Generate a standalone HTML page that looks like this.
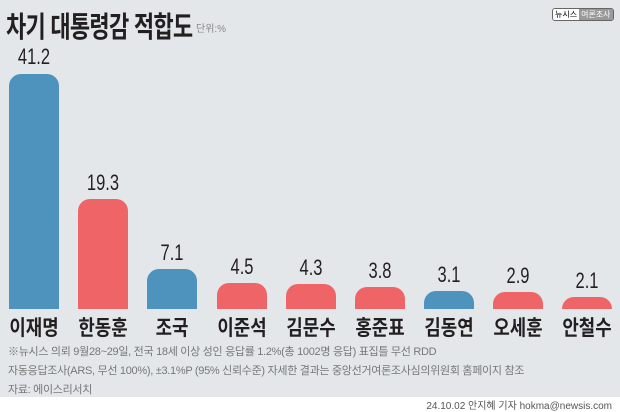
<!DOCTYPE html>
<html><head><meta charset="utf-8"><style>
body{margin:0;width:620px;height:410px;overflow:hidden;background:#fff;font-family:"Liberation Sans","Noto Sans CJK KR",sans-serif;}
#c{position:absolute;left:0;top:0;width:620px;height:397px;background:#e3e7ea;}
.t{position:absolute;left:6px;top:4px;font-size:29px;font-weight:bold;color:#231f20;letter-spacing:-1px;transform:scaleX(0.76);transform-origin:left top;white-space:nowrap;}
.u{position:absolute;left:196px;top:20px;font-size:10px;color:#888;}
.bar{position:absolute;width:50px;bottom:88px;border-radius:12px 12px 0 0;}
.v{position:absolute;width:70px;text-align:center;font-size:22px;color:#231f20;transform:scaleX(0.75);}
.n{position:absolute;top:312px;width:70px;text-align:center;font-size:21px;font-weight:bold;color:#231f20;transform:scaleX(0.85);white-space:nowrap;}
.f{position:absolute;left:8px;font-size:11px;color:#777;letter-spacing:-0.3px;white-space:nowrap;}
.logo{position:absolute;left:552px;top:8px;font-size:8px;line-height:11px;border:1px solid #666;border-radius:3px;overflow:hidden;display:flex;white-space:nowrap;}
</style></head><body>
<div id="c">
<div class="t">차기 대통령감 적합도</div><div class="u">단위:%</div>
<div class="logo"><span style="background:#fff;padding:0 2px">뉴시스</span><span style="background:#999;color:#fff;padding:0 2px">여론조사</span></div>
<div class="bar" style="left:9px;height:235px;background:#4e93bd"></div>
<div class="bar" style="left:78px;height:110px;background:#ef6466"></div>
<div class="bar" style="left:147px;height:40px;background:#4e93bd"></div>
<div class="bar" style="left:217px;height:26px;background:#ef6466"></div>
<div class="bar" style="left:286px;height:25px;background:#ef6466"></div>
<div class="bar" style="left:355px;height:22px;background:#ef6466"></div>
<div class="bar" style="left:424px;height:18px;background:#4e93bd"></div>
<div class="bar" style="left:493px;height:17px;background:#ef6466"></div>
<div class="bar" style="left:562px;height:12px;background:#ef6466"></div>
<div class="v" style="left:-1px;top:44px">41.2</div>
<div class="v" style="left:68px;top:170px">19.3</div>
<div class="v" style="left:137px;top:240px">7.1</div>
<div class="v" style="left:207px;top:254px">4.5</div>
<div class="v" style="left:276px;top:255px">4.3</div>
<div class="v" style="left:345px;top:258px">3.8</div>
<div class="v" style="left:414px;top:262px">3.1</div>
<div class="v" style="left:483px;top:263px">2.9</div>
<div class="v" style="left:552px;top:268px">2.1</div>
<div class="n" style="left:-1px">이재명</div>
<div class="n" style="left:68px">한동훈</div>
<div class="n" style="left:137px">조국</div>
<div class="n" style="left:207px">이준석</div>
<div class="n" style="left:276px">김문수</div>
<div class="n" style="left:345px">홍준표</div>
<div class="n" style="left:414px">김동연</div>
<div class="n" style="left:483px">오세훈</div>
<div class="n" style="left:552px">안철수</div>
<div class="f" style="top:343px">※뉴시스 의뢰 9월28~29일, 전국 18세 이상 성인 응답률 1.2%(총 1002명 응답) 표집틀 무선 RDD</div>
<div class="f" style="top:362px">자동응답조사(ARS, 무선 100%), ±3.1%P (95% 신뢰수준) 자세한 결과는 중앙선거여론조사심의위원회 홈페이지 참조</div>
<div class="f" style="top:381px">자료: 에이스리서치</div>
</div>
<div style="position:absolute;right:8px;top:397px;font-size:10px;color:#555">24.10.02 안지혜 기자 hokma@newsis.com</div>
</body></html>
